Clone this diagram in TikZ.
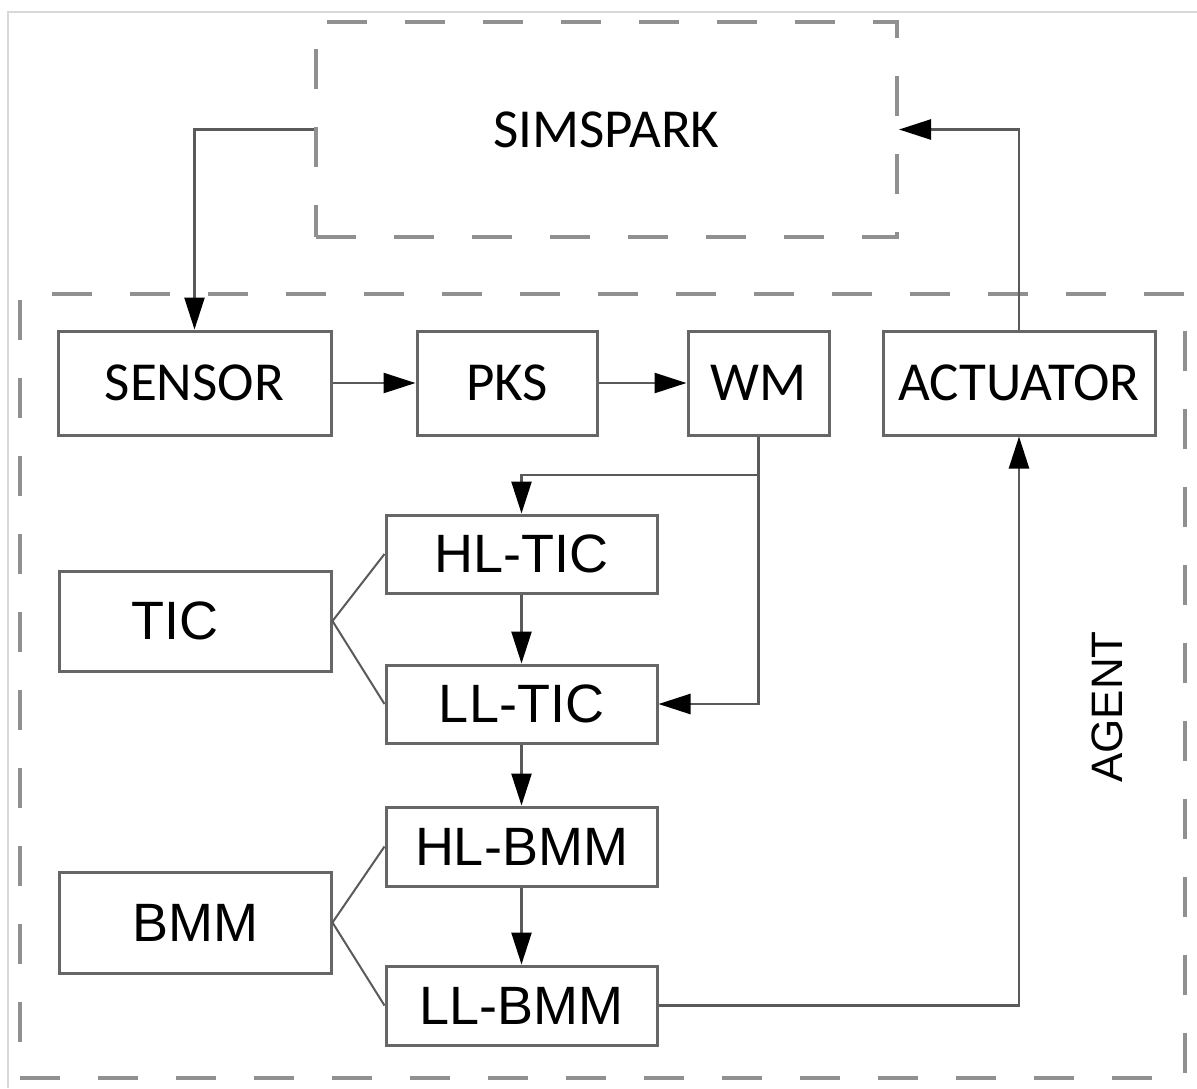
\documentclass[tikz,border=0pt]{standalone}
\usepackage{fontspec}
\newfontfamily\calfont{Carlito}
\newfontfamily\arfont{Liberation Sans}
\usetikzlibrary{arrows.meta}
\definecolor{boxgray}{HTML}{666666}
\definecolor{linegray}{HTML}{5A5A5A}
\definecolor{dashgray}{HTML}{909090}
\definecolor{framegray}{HTML}{D8D8D8}
\tikzset{
  box/.style={draw=boxgray, line width=3pt, inner sep=0pt, minimum height=104pt},
  cal/.style={font=\calfont\fontsize{55}{60}\selectfont},
  ar/.style={font=\arfont\fontsize{54}{60}\selectfont},
  dbox/.style={draw=dashgray, line width=4pt, dash pattern=on 40pt off 38pt, inner sep=0pt},
  conn/.style={draw=linegray, line width=2.5pt},
  arr/.style={conn, -{Triangle[length=32pt 0,width=20pt 0,black]}},
}
\begin{document}
\begin{tikzpicture}[x=1pt,y=-1pt]
\useasboundingbox (0,0) rectangle (1197,1088);
\draw[framegray, line width=1.5pt] (8,1088) -- (8,12) -- (1197,12);
% dashed groups
\node[dbox, minimum width=581pt, minimum height=215pt, cal] (simspark) at (606.5,129.5) {SIMSPARK};
\node[dbox, minimum width=1165pt, minimum height=784pt] (agent) at (602.5,686) {};
\node[ar, font=\arfont\fontsize{44}{50}\selectfont, rotate=90] (agentlbl) at (1107,707) {AGENT};
% top row
\node[box, cal, minimum width=273pt] (sensor) at (194.5,383) {SENSOR};
\node[box, cal, minimum width=180pt] (pks) at (507,383) {PKS};
\node[box, cal, minimum width=141pt] (wm) at (758.5,383) {WM};
\node[box, cal, minimum width=272pt] (act) at (1019,383) {ACTUATOR};
% TIC group
\node[box, ar, minimum width=271pt, minimum height=78pt] (hltic) at (521.5,554) {HL-TIC};
\node[box, ar, minimum width=271pt, minimum height=78pt] (lltic) at (521.5,704) {LL-TIC};
\node[box, ar, minimum width=272pt, minimum height=100pt] (tic) at (195,621) {\hspace*{-40pt}TIC};
% BMM group
\node[box, ar, minimum width=271pt, minimum height=79pt] (hlbmm) at (521.5,846.5) {HL-BMM};
\node[box, ar, minimum width=271pt, minimum height=79pt] (llbmm) at (521.5,1005.5) {LL-BMM};
\node[box, ar, minimum width=272pt, minimum height=101pt] (bmm) at (195,922.5) {BMM};
% connectors
\draw[arr] (simspark.west) -| (sensor.north);
\draw[arr] (act.north) |- (simspark.east);
\draw[arr] (sensor) -- (pks);
\draw[arr] (pks) -- (wm);
\coordinate (j1) at (758.5,475);
\draw[conn] (wm.south) -- (j1);
\draw[arr] (j1) -| (hltic.north);
\draw[arr] (j1) |- (lltic.east);
\draw[arr] (hltic) -- (lltic);
\draw[arr] (lltic) -- (hlbmm);
\draw[arr] (hlbmm) -- (llbmm);
\draw[arr] (llbmm.east) -| (act.south);
\draw[conn, line width=2pt] (hltic.west) -- (tic.east) -- (lltic.west);
\draw[conn, line width=2pt] (hlbmm.west) -- (bmm.east) -- (llbmm.west);
\end{tikzpicture}
\end{document}
